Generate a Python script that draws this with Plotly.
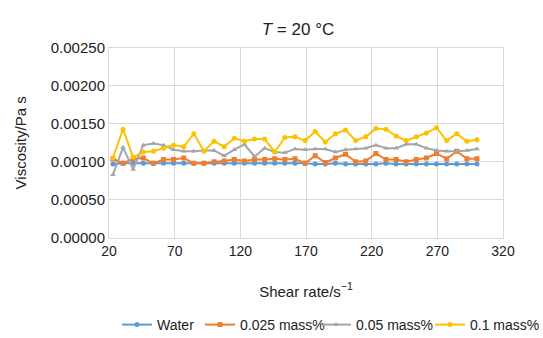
import plotly.graph_objects as go

shear_rate = [23.0, 30.7, 38.4, 46.1, 53.8, 61.5, 69.2, 76.9, 84.6, 92.3, 100.0, 107.7,
              115.4, 123.1, 130.8, 138.5, 146.2, 153.9, 161.6, 169.3, 177.0, 184.7, 192.4,
              200.1, 207.8, 215.5, 223.2, 230.9, 238.6, 246.3, 254.0, 261.7, 269.4, 277.1,
              284.8, 292.5, 300.2]

water = [0.00097, 0.00098, 0.00098, 0.00098, 0.00098, 0.00098, 0.00098, 0.00098, 0.00098,
         0.00098, 0.00098, 0.00098, 0.00098, 0.00098, 0.00098, 0.00098, 0.00098, 0.00098,
         0.00098, 0.00098, 0.00097, 0.00097, 0.00098, 0.00097, 0.00097, 0.00097, 0.00097,
         0.00098, 0.00097, 0.00097, 0.00097, 0.00097, 0.00097, 0.00097, 0.00097, 0.00097,
         0.00097]

mass_0025 = [0.00104, 0.00098, 0.00104, 0.00105, 0.00098, 0.00103, 0.00103, 0.00105, 0.00098,
             0.00098, 0.00100, 0.00101, 0.00103, 0.00101, 0.00103, 0.00103, 0.00104, 0.00103,
             0.00104, 0.00098, 0.00108, 0.00099, 0.00105, 0.00110, 0.00100, 0.00101, 0.00111,
             0.00103, 0.00103, 0.00100, 0.00103, 0.00105, 0.00111, 0.00104, 0.00114, 0.00104,
             0.00104]

mass_005 = [0.00083, 0.00119, 0.00090, 0.00122, 0.00124, 0.00122, 0.00116, 0.00114, 0.00114,
            0.00115, 0.00115, 0.00108, 0.00116, 0.00123, 0.00107, 0.00118, 0.00113, 0.00112,
            0.00117, 0.00116, 0.00117, 0.00117, 0.00113, 0.00116, 0.00117, 0.00118, 0.00122,
            0.00118, 0.00118, 0.00123, 0.00123, 0.00118, 0.00115, 0.00114, 0.00114, 0.00115,
            0.00117]

mass_01 = [0.00105, 0.00143, 0.00106, 0.00113, 0.00114, 0.00118, 0.00122, 0.00120, 0.00137,
           0.00114, 0.00127, 0.00120, 0.00131, 0.00127, 0.00130, 0.00130, 0.00113, 0.00132,
           0.00133, 0.00128, 0.00140, 0.00126, 0.00137, 0.00142, 0.00128, 0.00133, 0.00144,
           0.00143, 0.00134, 0.00128, 0.00133, 0.00138, 0.00145, 0.00128, 0.00137, 0.00127,
           0.00129]

series_names = ["Water", "0.025 mass%", "0.05 mass%", "0.1 mass%"]
series_values = [water, mass_0025, mass_005, mass_01]
series_colors = ["#5B9BD5", "#ED7D31", "#A5A5A5", "#FFC000"]
series_symbols = ["circle", "square", "triangle-up", "circle"]
legend_left_px = [117, 200, 316, 430]

FONT = "Liberation Sans, Arial, sans-serif"
W, H = 543, 338
fig = go.Figure()
legend_layouts = {}
for k, (name, vals, col, sym) in enumerate(zip(series_names, series_values,
                                                series_colors, series_symbols)):
    lg = "legend" if k == 0 else f"legend{k + 1}"
    fig.add_trace(go.Scatter(
        x=shear_rate, y=vals, name=name, mode="lines+markers",
        line=dict(color=col, width=2),
        marker=dict(color=col, symbol=sym, size=5),
        legend=lg,
    ))
    legend_layouts[lg] = dict(
        orientation="h", x=legend_left_px[k] / W, xref="container", xanchor="left",
        y=1 - 325 / H, yref="container", yanchor="middle",
        font=dict(size=14, color="#222"), itemwidth=30, bgcolor="rgba(0,0,0,0)",
    )

grid = "#d9d9d9"
fig.update_layout(
    width=W, height=H,
    margin=dict(l=109, r=40, t=48, b=88),
    paper_bgcolor="white", plot_bgcolor="white",
    font=dict(family=FONT, size=15, color="#222"),
    title=dict(text="<i>T</i> = 20 °C", x=(298 - 109) / 394, xref="paper", xanchor="center",
               y=1 - 29 / H, yref="container", yanchor="middle",
               font=dict(size=17, color="#222")),
    showlegend=True,
    xaxis=dict(range=[20, 320], tick0=20, dtick=50, showgrid=True, gridcolor=grid,
               gridwidth=1, showline=True, linecolor=grid, mirror=True, zeroline=False,
               ticks="", tickfont=dict(size=14),
               title=dict(text="Shear rate/s<sup>−1</sup>", standoff=28,
                          font=dict(size=15))),
    yaxis=dict(range=[0, 0.0025], dtick=0.0005, tickformat=".5f", showgrid=True,
               gridcolor=grid, gridwidth=1, showline=True, linecolor=grid, mirror=True,
               zeroline=False, ticks="", tickfont=dict(size=15),
               title=dict(text="Viscosity/Pa s", standoff=20, font=dict(size=15))),
    **legend_layouts,
)

fig.write_html("out.html")
